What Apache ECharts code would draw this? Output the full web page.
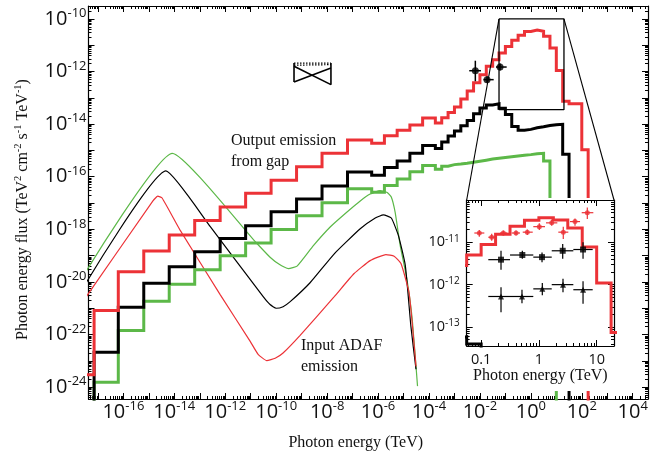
<!DOCTYPE html>
<html><head><meta charset="utf-8">
<script src="https://cdn.jsdelivr.net/npm/echarts@6/dist/echarts.min.js"></script>
<style>html,body{margin:0;padding:0;background:#fff}#c{width:668px;height:456px}</style>
</head><body><div id="c"></div>
<script>
// ---------- DATA (all values are log10 of energy [TeV] / log10 of flux) ----------
const binEdgesLogE = [-17.6, -17.15, -16.2, -15.2, -14.2, -13.2, -12.2, -11.2, -10.2, -9.2, -8.2, -7.2,
  -6.25, -5.75, -5.25, -4.75, -4.25, -3.75, -3.5, -3.25, -3.0, -2.75, -2.5, -2.25, -2.0, -1.75, -1.5,
  -1.25, -1.0, -0.75, -0.5, -0.25, 0, 0.25, 0.5, 0.75, 1.0, 1.25, 1.5, 2.0, 2.25];
const redGapLogFlux = [-23.53, -21.09, -19.61, -18.82, -18.22, -17.66, -17.15, -16.63, -16.13, -15.62, -15.11,
  -14.60, -14.73, -14.44, -14.23, -14.03, -13.77, -13.96, -13.76, -13.56, -13.35, -13.05, -12.74, -12.43,
  -12.12, -11.80, -11.55, -11.30, -11.05, -10.81, -10.62, -10.48, -10.42, -10.47, -10.66, -11.11, -11.96,
  -13.13, -13.23, -14.97];
const blackGapLogFlux = [null, -22.67, -20.96, -20.05, -19.42, -18.85, -18.35, -17.86, -17.33, -16.85, -16.35,
  -15.82, -15.94, -15.65, -15.40, -15.11, -14.81, -14.93, -14.68, -14.45, -14.26, -14.06, -13.86, -13.61,
  -13.39, -13.27, -13.23, -13.40, -13.63, -14.09, -14.23, -14.20, -14.14, -14.10, -14.05, -14.02, -14.01,
  -15.15, null, null];
const greenGapLogFlux = [null, -23.81, -21.85, -20.73, -20.09, -19.54, -19.00, -18.52, -18.01, -17.48, -16.99,
  -16.46, -16.59, -16.33, -16.09, -15.81, -15.57, -15.72, -15.60, -15.54, -15.52, -15.49, -15.45, -15.41,
  -15.37, -15.33, -15.30, -15.27, -15.24, -15.21, -15.18, -15.16, -15.13, -15.11, -15.40, -18.0, null,
  null, null, null];

const adafGreenLogE = [-17.6, -14.08, -10.83, -10.24, -9.85, -9.52, -9.18, -8.54, -7.88, -7.23, -6.70, -6.31, -5.92, -5.64, -5.48, -5.33, -5.13, -4.87, -4.66, -4.45];
const adafGreenLogFlux = [-19.81, -15.11, -18.46, -19.06, -19.35, -19.49, -19.40, -18.62, -17.91, -17.35, -16.92, -16.66, -16.53, -16.60, -16.77, -17.35, -18.62, -19.88, -21.39, -23.96];
const adafBlackLogE = [-17.6, -14.33, -12.58, -10.51, -10.24, -10.00, -9.73, -9.45, -8.67, -7.72, -6.70, -6.11, -5.79, -5.48, -5.20, -4.93, -4.71, -4.51];
const adafBlackLogFlux = [-20.25, -15.78, -17.91, -20.56, -20.86, -21.00, -20.94, -20.75, -20.03, -18.93, -17.98, -17.57, -17.45, -17.57, -18.24, -19.37, -21.69, -23.32];
const adafRedLogE = [-17.6, -14.84, -14.65, -14.48, -13.78, -12.20, -11.02, -10.71, -10.37, -10.04, -9.73, -9.06, -7.72, -6.94, -6.31, -5.69, -5.37, -5.10, -4.78, -4.51];
const adafRedLogFlux = [-20.76, -16.92, -16.74, -16.81, -18.02, -20.48, -22.26, -22.75, -22.99, -22.90, -22.70, -22.03, -20.56, -19.68, -19.19, -18.96, -19.02, -19.30, -20.43, -23.21];

const bowTieLogE = [-9.3, -7.85];
const bowTieSolidA = [-11.80, -12.50];
const bowTieSolidB = [-12.40, -11.87];
const bowTieDotA = [-11.68, -11.68];
const bowTieDotB = [-11.76, -11.74];

const obsLogE = [-2.18, -1.72, -1.21];
const obsLogELo = [-2.42, -1.86, -1.37];
const obsLogEHi = [-1.96, -1.46, -0.95];
const obsLogFlux = [-11.97, -12.31, -11.83];
const obsLogFluxLo = [-12.37, -12.43, -11.96];
const obsLogFluxHi = [-11.59, -12.18, -11.70];

const insRedLogE = [-1.032, -0.817, -0.616, -0.396, -0.201, 0.007, 0.222, 0.422, 0.625, 0.838];
const insRedLogELo = [-1.118, -0.876, -0.673, -0.471, -0.280, -0.097, 0.123, 0.336, 0.538, 0.741];
const insRedLogEHi = [-0.945, -0.743, -0.547, -0.327, -0.107, 0.106, 0.319, 0.509, 0.712, 0.942];
const insRedLogFlux = [-10.78, -10.88, -10.78, -10.78, -10.76, -10.63, -10.54, -10.76, -10.51, -10.30];
const insRedLogFluxLo = [-10.87, -10.96, -10.84, -10.84, -10.83, -10.71, -10.61, -10.92, -10.61, -10.45];
const insRedLogFluxHi = [-10.71, -10.80, -10.72, -10.72, -10.70, -10.55, -10.46, -10.63, -10.44, -10.18];
const insSqLogE = [-0.656, -0.287, 0.054, 0.412, 0.764];
const insSqLogELo = [-0.876, -0.500, -0.097, 0.222, 0.596];
const insSqLogEHi = [-0.500, -0.097, 0.222, 0.596, 0.931];
const insSqLogFlux = [-11.41, -11.30, -11.35, -11.20, -11.17];
const insSqLogFluxLo = [-11.65, -11.39, -11.47, -11.39, -11.39];
const insSqLogFluxHi = [-11.20, -11.20, -11.24, -11.04, -11.00];
const insTriLogE = [-0.656, -0.293, 0.059, 0.417, 0.764];
const insTriLogELo = [-0.876, -0.431, -0.097, 0.222, 0.596];
const insTriLogEHi = [-0.431, -0.097, 0.222, 0.596, 0.931];
const insTriLogFlux = [-12.28, -12.28, -12.10, -12.00, -12.12];
const insTriLogFluxLo = [-12.65, -12.44, -12.25, -12.18, -12.45];
const insTriLogFluxHi = [-12.06, -12.12, -11.96, -11.86, -11.92];

const mainXLabelExp = [-16, -14, -12, -10, -8, -6, -4, -2, 0, 2, 4];
const mainYLabelExp = [-24, -22, -20, -18, -16, -14, -12, -10];
const insetXLabelExp = [-1, 0, 1];
const insetXLabelText = ['0.1', '1', '10'];
const insetYLabelExp = [-13, -12, -11];

// ---------- CHART ----------
const SANS = "Open Sans";
const SERIF = "Liberation Serif";
const RED = '#ec3237', GREEN = '#5cb848', BLACK = '#000';
const mainX = [-17.37, 4.6], mainY = [-24.45, -9.51];
const insetX = [-1.25, 1.3], insetY = [-13.45, -10.0];
const FLOOR = -30;

function ints(a, b) { const r = []; for (let k = a; k <= b; k++) r.push(k); return r; }
function minorTicks(lo, hi) {
  const r = [];
  for (let k = Math.floor(lo) - 1; k <= Math.ceil(hi); k++)
    for (let m = 2; m <= 9; m++) { const v = k + Math.log10(m); if (v > lo && v < hi) r.push(v); }
  return r;
}
function expLabel(bs, ss, margin, values) {
  return {
    show: true, customValues: values, margin, formatter: expFmt,
    fontFamily: SANS, fontSize: bs, color: '#111',
    rich: {
      base: { fontFamily: SANS, fontSize: bs, lineHeight: Math.round(bs * 1.2), color: '#111' },
      sup: { fontFamily: SANS, fontSize: ss, lineHeight: ss, verticalAlign: 'top', color: '#111' }
    }
  };
}
function expFmt(v) { const n = Math.round(v); return '{base|10}{sup|' + (n < 0 ? '-' : '') + Math.abs(n) + '}'; }

function axisSet(gridIndex, posA, posB, range, labelOpt, nameOpt, z) {
  const majors = ints(Math.ceil(range[0] - 1e-9), Math.floor(range[1] + 1e-9));
  const minors = minorTicks(range[0], range[1]);
  const mk = (pos, ticks, len, withLine, label, name) => Object.assign({
    type: 'value', gridIndex, position: pos, min: range[0], max: range[1], z,
    axisLine: { show: withLine, onZero: false, lineStyle: { color: '#000', width: 1.2 } },
    axisTick: { show: true, inside: true, length: len, customValues: ticks, lineStyle: { color: '#000', width: 1 } },
    axisLabel: label || { show: false },
    splitLine: { show: false }
  }, name || {});
  return [mk(posA, majors, 6, true, labelOpt, nameOpt), mk(posA, minors, 3, false),
          mk(posB, majors, 6, true), mk(posB, minors, 3, false)];
}

const xAxes = [].concat(
  axisSet(0, 'bottom', 'top', mainX, expLabel(20, 13, 1, mainXLabelExp),
    { name: 'Photon energy (TeV)', nameLocation: 'middle', nameGap: 36,
      nameTextStyle: { fontFamily: SERIF, fontSize: 16, color: '#111', padding: [0, 25, 0, 0] } }, 0),
  axisSet(1, 'bottom', 'top', insetX,
    { show: true, customValues: insetXLabelExp, margin: 6, fontFamily: SANS, fontSize: 14.5, color: '#111',
      formatter: v => insetXLabelText[insetXLabelExp.indexOf(Math.round(v))] },
    { name: 'Photon energy (TeV)', nameLocation: 'middle', nameGap: 22,
      nameTextStyle: { fontFamily: SERIF, fontSize: 16, color: '#111' } }, 20)
);
const yAxes = [].concat(
  axisSet(0, 'left', 'right', mainY, expLabel(20, 13, 2, mainYLabelExp),
    { name: '{n|Photon energy flux (TeV}{sp|2}{n| cm}{sp|-2}{n| s}{sp|-1}{n| TeV}{sp|-1}{n|)}',
      nameLocation: 'middle', nameGap: 56,
      nameTextStyle: { padding: [0, 14, 0, 0], rich: {
        n: { fontFamily: SERIF, fontSize: 16, lineHeight: 20, color: '#111' },
        sp: { fontFamily: SERIF, fontSize: 10.5, lineHeight: 11, verticalAlign: 'top', color: '#111' } } } }, 0),
  axisSet(1, 'left', 'right', insetY, expLabel(14.5, 10, 7, insetYLabelExp), null, 20)
);

function stepPoints(values) {
  const pts = [];
  for (let i = 0; i < values.length; i++) {
    const v = values[i] == null ? FLOOR : values[i];
    pts.push([binEdgesLogE[i], v], [binEdgesLogE[i + 1], v]);
  }
  pts.push([binEdgesLogE[binEdgesLogE.length - 1], FLOOR]);
  return pts;
}
function zip(a, b) { return a.map((v, i) => [v, b[i]]); }

function stepSeries(values, color, axisIdx, z) {
  return { type: 'line', data: stepPoints(values), xAxisIndex: axisIdx, yAxisIndex: axisIdx,
    symbol: 'none', clip: true, z, lineStyle: { color, width: 3, join: 'miter' }, silent: true };
}
function curveSeries(xs, ys, color) {
  return { type: 'line', data: zip(xs, ys), xAxisIndex: 0, yAxisIndex: 0, symbol: 'none', clip: true,
    smooth: 0.15, lineStyle: { color, width: 1.2 }, z: 2, silent: true };
}
function errSeries(xs, xlo, xhi, ys, ylo, yhi, color, axisIdx, z, w) {
  return {
    type: 'custom', xAxisIndex: axisIdx, yAxisIndex: axisIdx, z, silent: true,
    data: xs.map((x, i) => [x, ys[i], xlo[i], xhi[i], ylo[i], yhi[i]]),
    encode: { x: [0, 2, 3], y: [1, 4, 5] },
    renderItem(params, api) {
      const l = api.coord([api.value(2), api.value(1)]);
      const r = api.coord([api.value(3), api.value(1)]);
      const b = api.coord([api.value(0), api.value(4)]);
      const t = api.coord([api.value(0), api.value(5)]);
      const st = { stroke: color, lineWidth: w };
      return { type: 'group', children: [
        { type: 'line', shape: { x1: l[0], y1: l[1], x2: r[0], y2: r[1] }, style: st },
        { type: 'line', shape: { x1: b[0], y1: b[1], x2: t[0], y2: t[1] }, style: st } ] };
    }
  };
}
function markerSeries(xs, ys, symbol, size, color, axisIdx, z) {
  return { type: 'scatter', data: zip(xs, ys), xAxisIndex: axisIdx, yAxisIndex: axisIdx, symbol,
    symbolSize: size, itemStyle: { color }, z, silent: true };
}
const bowSegs = [
  [bowTieLogE[0], bowTieSolidA[0], bowTieLogE[1], bowTieSolidA[1], 0],
  [bowTieLogE[0], bowTieSolidB[0], bowTieLogE[1], bowTieSolidB[1], 0],
  [bowTieLogE[0], Math.max(bowTieDotA[0], bowTieSolidA[0]), bowTieLogE[0], Math.min(bowTieSolidA[0], bowTieSolidB[0]), 0],
  [bowTieLogE[1], Math.max(bowTieDotA[1], bowTieSolidA[1]), bowTieLogE[1], Math.min(bowTieSolidA[1], bowTieSolidB[1]), 0],
  [bowTieLogE[0], bowTieDotA[0], bowTieLogE[1], bowTieDotA[1], 1],
  [bowTieLogE[0], bowTieDotB[0], bowTieLogE[1], bowTieDotB[1], 1]
];
const segSeries = {
  type: 'custom', xAxisIndex: 0, yAxisIndex: 0, z: 4, silent: true, data: bowSegs,
  encode: { x: [0, 2], y: [1, 3] },
  renderItem(params, api) {
    const a = api.coord([api.value(0), api.value(1)]);
    const b = api.coord([api.value(2), api.value(3)]);
    const dotted = api.value(4) === 1;
    return { type: 'line', shape: { x1: a[0], y1: a[1], x2: b[0], y2: b[1] },
      style: { stroke: '#000', lineWidth: dotted ? 1.2 : 1.6, lineDash: dotted ? [1.5, 1.5] : null } };
  }
};
const boxSeries = { type: 'line', xAxisIndex: 0, yAxisIndex: 0, symbol: 'none', z: 4, silent: true,
  data: [[insetX[0], insetY[1]], [insetX[1], insetY[1]], [insetX[1], insetY[0]], [insetX[0], insetY[0]], [insetX[0], insetY[1]]],
  lineStyle: { color: '#000', width: 1.3 } };

const series = [
  curveSeries(adafGreenLogE, adafGreenLogFlux, GREEN),
  curveSeries(adafBlackLogE, adafBlackLogFlux, BLACK),
  curveSeries(adafRedLogE, adafRedLogFlux, RED),
  stepSeries(greenGapLogFlux, GREEN, 0, 3),
  stepSeries(blackGapLogFlux, BLACK, 0, 3),
  stepSeries(redGapLogFlux, RED, 0, 3),
  segSeries, boxSeries,
  errSeries(obsLogE, obsLogELo, obsLogEHi, obsLogFlux, obsLogFluxLo, obsLogFluxHi, BLACK, 0, 5, 1.5),
  markerSeries(obsLogE, obsLogFlux, 'circle', 7, BLACK, 0, 6),
  stepSeries(greenGapLogFlux, GREEN, 4, 21),
  stepSeries(blackGapLogFlux, BLACK, 4, 21),
  stepSeries(redGapLogFlux, RED, 4, 21),
  errSeries(insRedLogE, insRedLogELo, insRedLogEHi, insRedLogFlux, insRedLogFluxLo, insRedLogFluxHi, RED, 4, 22, 1.2),
  markerSeries(insRedLogE, insRedLogFlux, 'circle', 5, RED, 4, 23),
  errSeries(insSqLogE, insSqLogELo, insSqLogEHi, insSqLogFlux, insSqLogFluxLo, insSqLogFluxHi, BLACK, 4, 22, 1.2),
  markerSeries(insSqLogE, insSqLogFlux, 'rect', 6, BLACK, 4, 23),
  errSeries(insTriLogE, insTriLogELo, insTriLogEHi, insTriLogFlux, insTriLogFluxLo, insTriLogFluxHi, BLACK, 4, 22, 1.2),
  markerSeries(insTriLogE, insTriLogFlux, 'triangle', 6, BLACK, 4, 23)
];

const chart = echarts.init(document.getElementById('c'));
chart.setOption({
  animation: false,
  backgroundColor: '#fff',
  grid: [
    { left: 88.5, top: 6, width: 559.5, height: 395 },
    { left: 466.7, top: 200, width: 147.3, height: 146 }
  ],
  xAxis: xAxes,
  yAxis: yAxes,
  series,
  graphic: [
    { id: 'insetBg', type: 'rect', shape: { x: 420, y: 198, width: 200, height: 193 }, style: { fill: '#fff' }, z: 10 },
    { id: 't1', type: 'text', x: 231, y: 130, z: 5,
      style: { text: 'Output emission\nfrom gap', font: '16px "Liberation Serif"', fill: '#111', lineHeight: 21, align: 'left', verticalAlign: 'top' } },
    { id: 't2', type: 'text', x: 301, y: 335, z: 5,
      style: { text: 'Input ADAF\nemission', font: '16px "Liberation Serif"', fill: '#111', lineHeight: 21, align: 'left', verticalAlign: 'top' } }
  ]
});
const p1 = chart.convertToPixel({ xAxisIndex: 0, yAxisIndex: 0 }, [insetX[0], insetY[1]]);
const p2 = chart.convertToPixel({ xAxisIndex: 0, yAxisIndex: 0 }, [insetX[1], insetY[1]]);
const q1 = chart.convertToPixel({ xAxisIndex: 4, yAxisIndex: 4 }, [insetX[0], insetY[1]]);
const q2 = chart.convertToPixel({ xAxisIndex: 4, yAxisIndex: 4 }, [insetX[1], insetY[1]]);
chart.setOption({ graphic: [
  { id: 'c1', type: 'line', z: 12, shape: { x1: p1[0], y1: p1[1], x2: q1[0], y2: q1[1] }, style: { stroke: '#000', lineWidth: 1.1 } },
  { id: 'c2', type: 'line', z: 12, shape: { x1: p2[0], y1: p2[1], x2: q2[0], y2: q2[1] }, style: { stroke: '#000', lineWidth: 1.1 } }
] });
</script></body></html>
